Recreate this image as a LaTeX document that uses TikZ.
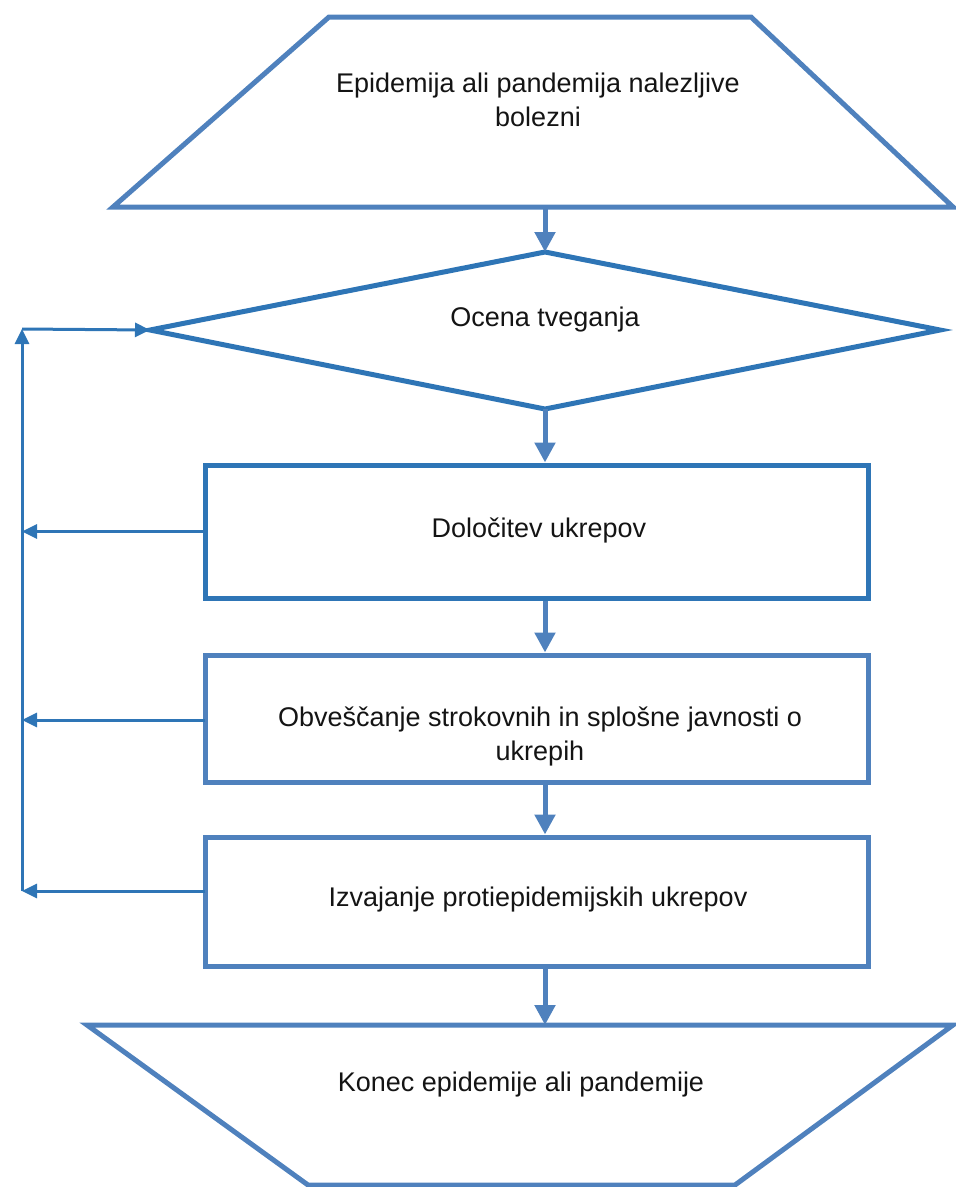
\documentclass[tikz,border=0pt]{standalone}
\usepackage{fontspec}
\setmainfont{Liberation Sans}
\usetikzlibrary{arrows.meta,calc}
\definecolor{deep}{RGB}{46,117,182}
\definecolor{soft}{RGB}{79,129,189}
\definecolor{ink}{RGB}{20,20,20}
\begin{document}
\begin{tikzpicture}[x=1pt,y=-1pt,
  shapeline/.style={draw=soft,line width=5pt,line join=miter},
  boxshape/.style={draw=soft,line width=5pt,minimum width=663pt,inner sep=0pt},
  txt/.style={align=center,text=ink,inner sep=0pt,font=\fontsize{27}{34}\selectfont},
  varrow/.style={draw=soft,line width=5pt,-{Triangle[length=20pt,width=20pt]}},
  fbarrow/.style={draw=deep,line width=3pt,-{Triangle[length=15pt,width=14pt]}},
  fbline/.style={draw=deep,line width=3pt}]
\useasboundingbox (0,0) rectangle (956,1187);
% top trapezoid
\coordinate (tTL) at (329,17);
\coordinate (tTR) at (751,17);
\coordinate (tBR) at (953,207);
\coordinate (tBL) at (113,207);
\draw[shapeline] (tTL) -- (tTR) -- (tBR) -- (tBL) -- cycle;
\node[txt] (tText) at (538,100) {Epidemija ali pandemija nalezljive\\bolezni};
% diamond
\coordinate (dT) at (545,252);
\coordinate (dR) at (940,330);
\coordinate (dB) at (545,409);
\coordinate (dL) at (150,330);
\draw[draw=deep,line width=5pt] (dT) -- (dR) -- (dB) -- (dL) -- cycle;
\node[txt] (dText) at (545,320) {Ocena tveganja};
% rectangles
\node[boxshape,draw=deep,minimum height=133pt] (r1) at (536.5,531.5) {};
\node[txt] (r1Text) at (539,530) {Določitev ukrepov};
\node[boxshape,minimum height=127pt] (r2) at (536.5,718.5) {};
\node[txt] (r2Text) at (540,736) {Obveščanje strokovnih in splošne javnosti o\\ukrepih};
\node[boxshape,minimum height=129pt] (r3) at (536.5,901.5) {};
\node[txt] (r3Text) at (538,900) {Izvajanje protiepidemijskih ukrepov};
% bottom trapezoid
\coordinate (bTL) at (87,1025);
\coordinate (bTR) at (953,1025);
\coordinate (bBR) at (735,1185);
\coordinate (bBL) at (308,1185);
\draw[shapeline] (bTL) -- (bTR) -- (bBR) -- (bBL) -- cycle;
\node[txt] (bText) at (521,1085) {Konec epidemije ali pandemije};
% main flow arrows
\coordinate (ax) at (545,0);
\coordinate (tB) at (545,207);
\coordinate (bT) at (545,1025);
\draw[varrow] (tB) -- (dT);
\draw[varrow] (dB) -- (r1.north -| ax);
\draw[varrow] (r1.south -| ax) -- (r2.north -| ax);
\draw[varrow] (r2.south -| ax) -- (r3.north -| ax);
\draw[varrow] (r3.south -| ax) -- (bT);
% feedback
\coordinate (fbx) at (22,0);
\coordinate (fbTop) at (22,329);
\coordinate (fbBot) at (22,891);
\coordinate (r2out) at (205,720);
\coordinate (r3out) at (205,891);
\draw[fbarrow] (r1.west) -- (r1.west -| fbx);
\draw[fbarrow] (r2out) -- (r2out -| fbx);
\draw[fbarrow] (r3out) -- (fbBot);
\draw[fbarrow] (fbBot) -- (fbTop);
\draw[fbarrow] (fbTop) -- (dL);
\end{tikzpicture}
\end{document}
